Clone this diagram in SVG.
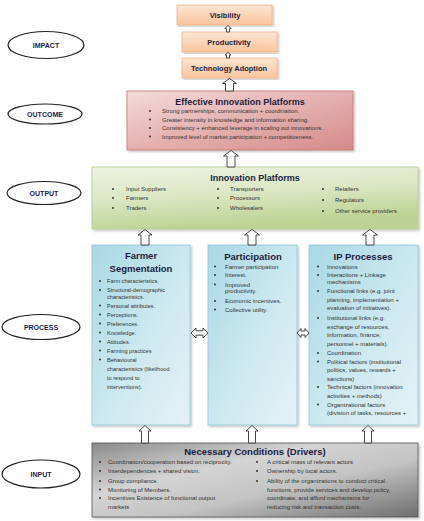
<svg xmlns="http://www.w3.org/2000/svg" width="424" height="521" viewBox="0 0 424 521">
<defs>
<linearGradient id="gOrange" x1="0" y1="0" x2="0" y2="1"><stop offset="0" stop-color="#fde6d3"/><stop offset="1" stop-color="#f9c49b"/></linearGradient>
<linearGradient id="gRed" x1="0" y1="0" x2="1" y2="1"><stop offset="0" stop-color="#f3dcdb"/><stop offset="0.5" stop-color="#e4b1b0"/><stop offset="1" stop-color="#d48a88"/></linearGradient>
<linearGradient id="gGreen" x1="0" y1="0" x2="0.3" y2="1"><stop offset="0" stop-color="#eef3e2"/><stop offset="0.5" stop-color="#dbe7c4"/><stop offset="1" stop-color="#bdd293"/></linearGradient>
<linearGradient id="gBlue" x1="0" y1="0" x2="1" y2="1"><stop offset="0" stop-color="#a9d8e5"/><stop offset="0.55" stop-color="#cde9f0"/><stop offset="1" stop-color="#e3f2f6"/></linearGradient>
<linearGradient id="gGrey" x1="0" y1="0" x2="1" y2="1"><stop offset="0" stop-color="#8a8a8a"/><stop offset="0.35" stop-color="#d4d4d4"/><stop offset="0.6" stop-color="#c4c4c4"/><stop offset="1" stop-color="#6e6e6e"/></linearGradient>
<filter id="sh" x="-5%" y="-5%" width="112%" height="115%"><feDropShadow dx="1.5" dy="1.5" stdDeviation="1" flood-color="#000" flood-opacity="0.25"/></filter>
</defs>
<style>
.ell{fill:#fff;stroke:#222;stroke-width:1.2}
.elab{font-family:"Liberation Sans",Arial,sans-serif;font-weight:bold;font-size:7px;fill:#1c1c4a;text-anchor:middle}
.t{font-family:"Liberation Sans",Arial,sans-serif;font-weight:bold;fill:#1c1c3c;text-anchor:middle}
.b{font-family:"Liberation Sans",Arial,sans-serif;font-size:6px;fill:#333}
.bs{font-family:"Liberation Sans",Arial,sans-serif;font-size:5.6px;fill:#333}
.dot{fill:#222}
.arr{fill:#fff;stroke:#333;stroke-width:0.9}
</style>

<!-- Level ellipses -->
<g id="impact"><ellipse class="ell" cx="46" cy="45" rx="38" ry="13.5"/><text class="elab" x="46" y="47.5">IMPACT</text></g>
<g id="outcome"><ellipse class="ell" cx="45" cy="114" rx="37" ry="10"/><text class="elab" x="45" y="116.5">OUTCOME</text></g>
<g id="output"><ellipse class="ell" cx="44" cy="193" rx="37" ry="11.5"/><text class="elab" x="44" y="195.5">OUTPUT</text></g>
<g id="process"><ellipse class="ell" cx="41" cy="327" rx="39" ry="12.5"/><text class="elab" x="41" y="329.5">PROCESS</text></g>
<g id="input"><ellipse class="ell" cx="41" cy="474" rx="39" ry="14"/><text class="elab" x="41" y="476.5">INPUT</text></g>

<!-- Impact boxes -->
<g id="visibility"><rect x="177" y="5" width="95" height="20" fill="url(#gOrange)" stroke="#f2b48a" stroke-width="0.8" filter="url(#sh)"/><text class="t" x="225" y="17.5" font-size="7.5">Visibility</text></g>
<g id="productivity"><rect x="182" y="32" width="95" height="20" fill="url(#gOrange)" stroke="#f2b48a" stroke-width="0.8" filter="url(#sh)"/><text class="t" x="229" y="44.5" font-size="7.5">Productivity</text></g>
<g id="techadoption"><rect x="182" y="58" width="95" height="20" fill="url(#gOrange)" stroke="#f2b48a" stroke-width="0.8" filter="url(#sh)"/><text class="t" x="229" y="70.5" font-size="7.5">Technology Adoption</text></g>

<!-- Effective Innovation Platforms -->
<g id="effective">
<rect x="127" y="91" width="226" height="59" fill="url(#gRed)" stroke="#c9716e" stroke-width="0.8" filter="url(#sh)"/>
<text class="t" x="240" y="105" font-size="9">Effective Innovation Platforms</text>
<circle class="dot" cx="150" cy="111" r="0.9"/><text class="b" x="162" y="113">Strong partnerships, communication + coordination.</text>
<circle class="dot" cx="150" cy="119.5" r="0.9"/><text class="b" x="162" y="121.5">Greater intensity in knowledge and information sharing.</text>
<circle class="dot" cx="150" cy="128" r="0.9"/><text class="b" x="162" y="130">Consistency + enhanced leverage in scaling out innovations.</text>
<circle class="dot" cx="150" cy="136.5" r="0.9"/><text class="b" x="162" y="138.5">Improved level of market participation + competitiveness.</text>
</g>

<!-- Innovation Platforms -->
<g id="innovation">
<rect x="92" y="167" width="326" height="62" fill="url(#gGreen)" stroke="#b4c98a" stroke-width="0.8" filter="url(#sh)"/>
<text class="t" x="255" y="181" font-size="9">Innovation Platforms</text>
<circle class="dot" cx="113" cy="189" r="0.9"/><text class="b" x="126" y="191">Input Suppliers</text>
<circle class="dot" cx="113" cy="198" r="0.9"/><text class="b" x="126" y="200">Farmers</text>
<circle class="dot" cx="113" cy="208" r="0.9"/><text class="b" x="126" y="210">Traders</text>
<circle class="dot" cx="218" cy="189" r="0.9"/><text class="b" x="230" y="191">Transporters</text>
<circle class="dot" cx="218" cy="198" r="0.9"/><text class="b" x="230" y="200">Processors</text>
<circle class="dot" cx="218" cy="208" r="0.9"/><text class="b" x="230" y="210">Wholesalers</text>
<circle class="dot" cx="323" cy="189" r="0.9"/><text class="b" x="335" y="191">Retailers</text>
<circle class="dot" cx="323" cy="200" r="0.9"/><text class="b" x="335" y="202">Regulators</text>
<circle class="dot" cx="323" cy="211" r="0.9"/><text class="b" x="335" y="213">Other service providers</text>
</g>

<!-- Farmer Segmentation -->
<g id="farmerseg">
<rect x="92" y="245" width="98" height="180" fill="url(#gBlue)" stroke="#8ec7d6" stroke-width="0.8" filter="url(#sh)"/>
<text class="t" x="141" y="259" font-size="9.5">Farmer</text>
<text class="t" x="141" y="272" font-size="9.5">Segmentation</text>
<g class="bs">
<circle class="dot" cx="100" cy="281" r="0.9"/><text x="107" y="283">Farm characteristics.</text>
<circle class="dot" cx="100" cy="290" r="0.9"/><text x="107" y="292">Structural-demographic</text><text x="107" y="298.5">characteristics.</text>
<circle class="dot" cx="100" cy="305.5" r="0.9"/><text x="107" y="307.5">Personal attributes.</text>
<circle class="dot" cx="100" cy="314.5" r="0.9"/><text x="107" y="316.5">Perceptions.</text>
<circle class="dot" cx="100" cy="323.5" r="0.9"/><text x="107" y="325.5">Preferences.</text>
<circle class="dot" cx="100" cy="332.5" r="0.9"/><text x="107" y="334.5">Knowledge.</text>
<circle class="dot" cx="100" cy="341.5" r="0.9"/><text x="107" y="343.5">Attitudes.</text>
<circle class="dot" cx="100" cy="350.5" r="0.9"/><text x="107" y="352.5">Farming practices</text>
<circle class="dot" cx="100" cy="359.5" r="0.9"/><text x="107" y="361.5">Behavioural</text>
<text x="107" y="370.5">characteristics (likelihood</text>
<text x="107" y="379.5">to respond to</text>
<text x="107" y="388.5">interventions).</text>
</g>
</g>

<!-- Participation -->
<g id="participation">
<rect x="208" y="245" width="89" height="180" fill="url(#gBlue)" stroke="#8ec7d6" stroke-width="0.8" filter="url(#sh)"/>
<text class="t" x="253" y="260" font-size="9.5">Participation</text>
<g class="b">
<circle class="dot" cx="215" cy="266.5" r="0.9"/><text x="225" y="268.5">Farmer participation</text>
<circle class="dot" cx="215" cy="275" r="0.9"/><text x="225" y="277">Interest.</text>
<circle class="dot" cx="215" cy="284.5" r="0.9"/><text x="225" y="286.5">Improved</text><text x="225" y="293">productivity.</text>
<circle class="dot" cx="215" cy="301" r="0.9"/><text x="225" y="303">Economic incentives.</text>
<circle class="dot" cx="215" cy="309.5" r="0.9"/><text x="225" y="311.5">Collective utility.</text>
</g>
</g>

<!-- IP Processes -->
<g id="ipprocesses">
<rect x="309" y="245" width="109" height="180" fill="url(#gBlue)" stroke="#8ec7d6" stroke-width="0.8" filter="url(#sh)"/>
<text class="t" x="363" y="260" font-size="9.5">IP Processes</text>
<g class="b">
<circle class="dot" cx="318" cy="266.5" r="0.9"/><text x="327" y="268.5">Innovations</text>
<circle class="dot" cx="318" cy="275" r="0.9"/><text x="327" y="277">Interactions + Linkage</text><text x="327" y="284">mechanisms</text>
<circle class="dot" cx="318" cy="291" r="0.9"/><text x="327" y="293">Functional links (e.g. joint</text><text x="327" y="301.5">planning, implementation +</text><text x="327" y="310">evaluation of initiatives).</text>
<circle class="dot" cx="318" cy="318" r="0.9"/><text x="327" y="320">Institutional links (e.g.</text><text x="327" y="328.5">exchange of resources,</text><text x="327" y="337">information, finance,</text><text x="327" y="345.5">personnel + materials).</text>
<circle class="dot" cx="318" cy="353" r="0.9"/><text x="327" y="355">Coordination</text>
<circle class="dot" cx="318" cy="361.5" r="0.9"/><text x="327" y="363.5">Political factors (institutional</text><text x="327" y="372">politics, values, rewards +</text><text x="327" y="380.5">sanctions)</text>
<circle class="dot" cx="318" cy="387" r="0.9"/><text x="327" y="389">Technical factors (innovation</text><text x="327" y="397.5">activities + methods)</text>
<circle class="dot" cx="318" cy="404.5" r="0.9"/><text x="327" y="406.5">Organizational factors</text><text x="327" y="415">(division of tasks, resources +</text>
</g>
</g>

<!-- Necessary Conditions -->
<g id="necessary">
<rect x="92" y="443" width="326" height="74" fill="url(#gGrey)" stroke="#555" stroke-width="0.8" filter="url(#sh)"/>
<text class="t" x="255" y="455" font-size="9.5">Necessary Conditions (Drivers)</text>
<g class="b">
<circle class="dot" cx="100" cy="462" r="0.9"/><text x="108" y="464">Coordination/cooperation based on reciprocity.</text>
<circle class="dot" cx="100" cy="471" r="0.9"/><text x="108" y="473">Interdependences + shared vision.</text>
<circle class="dot" cx="100" cy="481" r="0.9"/><text x="108" y="483">Group compliance.</text>
<circle class="dot" cx="100" cy="489.5" r="0.9"/><text x="108" y="491.5">Monitoring of Members.</text>
<circle class="dot" cx="100" cy="498" r="0.9"/><text x="108" y="500">Incentives Existence of functional output</text><text x="108" y="509">markets</text>
<circle class="dot" cx="257" cy="462" r="0.9"/><text x="267" y="464">A critical mass of relevant actors</text>
<circle class="dot" cx="257" cy="471" r="0.9"/><text x="267" y="473">Ownership by local actors.</text>
<circle class="dot" cx="257" cy="481" r="0.9"/><text x="267" y="483">Ability of the organizations to conduct critical</text>
<text x="267" y="491.5">functions, provide services and develop policy,</text>
<text x="267" y="500">coordinate, and afford mechanisms for</text>
<text x="267" y="508.5">reducing risk and transaction costs.</text>
</g>
</g>

<!-- Connectors (block arrows) -->
<g id="connectors">
<!-- small arrows between impact boxes -->
<path class="arr" d="M228,25.5 L231,28.5 L229.5,28.5 L229.5,32 L226.5,32 L226.5,28.5 L225,28.5 Z"/>
<path class="arr" d="M228,52.5 L231,55 L229.5,55 L229.5,58 L226.5,58 L226.5,55 L225,55 Z"/>
<!-- Effective -> Technology Adoption -->
<path class="arr" d="M229.5,78.5 L236.5,83.5 L233.5,83.5 L233.5,91 L225.5,91 L225.5,83.5 L222.5,83.5 Z"/>
<!-- Innovation Platforms -> Effective -->
<path class="arr" d="M231,150.5 L238.5,156 L235,156 L235,167 L227,167 L227,156 L223.5,156 Z"/>
<!-- Process boxes -> Innovation Platforms -->
<path class="arr" d="M145,229.5 L152,235 L149,235 L149,245 L141,245 L141,235 L138,235 Z"/>
<path class="arr" d="M252,229.5 L259.5,235 L256,235 L256,245 L248,245 L248,235 L244.5,235 Z"/>
<path class="arr" d="M370,229.5 L377.5,235 L374,235 L374,245 L366,245 L366,235 L362.5,235 Z"/>
<!-- Necessary Conditions -> Process boxes -->
<path class="arr" d="M145,425.5 L151,431 L148.5,431 L148.5,443 L141.5,443 L141.5,431 L139,431 Z"/>
<path class="arr" d="M252,425.5 L258,431 L255.5,431 L255.5,443 L248.5,443 L248.5,431 L246,431 Z"/>
<path class="arr" d="M368,425.5 L374,431 L371.5,431 L371.5,443 L364.5,443 L364.5,431 L362,431 Z"/>
<!-- double arrows between process boxes -->
<path class="arr" d="M191,333 L196,328 L196,330.8 L203,330.8 L203,328 L208,333 L203,338 L203,335.2 L196,335.2 L196,338 Z"/>
<path class="arr" d="M297,333 L301,328.5 L301,331 L305,331 L305,328.5 L309,333 L305,337.5 L305,335 L301,335 L301,337.5 Z"/>
</g>
</svg>
